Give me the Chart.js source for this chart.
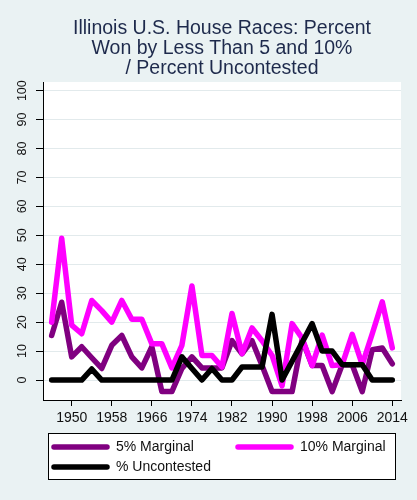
<!DOCTYPE html>
<html lang="en">
<head>
  <meta charset="UTF-8" />
  <title>Illinois U.S. House Races</title>
  <script src="https://cdn.jsdelivr.net/npm/chart.js"></script>
  <style>
    body {
      margin: 0;
      background: #eaf2f3;
    }
    .wrap {
      width: 417px;
      height: 500px;
      position: relative;
    }
  </style>
</head>
<body>
  <div class="wrap"><canvas id="houseChart"></canvas></div>

  <script>
    const years = [1946, 1948, 1950, 1952, 1954, 1956, 1958, 1960, 1962, 1964, 1966, 1968, 1970, 1972, 1974, 1976, 1978,
                   1980, 1982, 1984, 1986, 1988, 1990, 1992, 1994, 1996, 1998, 2000, 2002, 2004, 2006, 2008, 2010, 2012, 2014]
    const marginal5 = [15.4, 26.9, 8, 11.5, 7.7, 4, 12, 15.4, 8, 4.2, 11.5, -4, -4, 4, 8, 4.2, 4.2,
                       4.2, 13.6, 9.1, 13.6, 5, -4, -4, -4, 14, 5, 5, -4, 5.3, 5.3, -4, 10.5, 11.1, 5.6]
    const marginal10 = [20, 49, 19, 16, 27.5, 24, 20, 27.5, 21, 21, 12.5, 12.5, 4.2, 12, 32.5, 8.5, 8.5,
                        4.5, 23, 9.1, 18, 13.6, 8.5, -2, 19.5, 14.5, 5, 15.5, 5, 5.3, 15.8, 5.3, 16, 27, 11.1]
    const uncontested = [0, 0, 0, 0, 3.8, 0, 0, 0, 0, 0, 0, 0, 0, 8, 4, 0, 4,
                         0, 0, 4.5, 4.5, 4.5, 22.7, 0, 6.5, 13, 19.5, 10, 10, 5.3, 5.3, 5.3, 0, 0, 0]
    const xTicks = [1950, 1958, 1966, 1974, 1982, 1990, 1998, 2006, 2014]
    const yTicks = [0, 10, 20, 30, 40, 50, 60, 70, 80, 90, 100]
    const titleLines = ['Illinois U.S. House Races: Percent', 'Won by Less Than 5 and 10%', '/ Percent Uncontested']
    const seriesNames = ['5% Marginal', '10% Marginal', '% Uncontested']
    const seriesColors = ['#800080', '#ff00ff', '#000000']

    const FONT = "'Liberation Sans', Arial, sans-serif"
    const toPoints = vals => years.map((yr, i) => ({ x: yr, y: vals[i] }))

    // stata-like backdrop, title and legend box
    const stataFrame = {
      id: 'stataFrame',
      beforeDraw(chart) {
        const { ctx, chartArea: a } = chart
        ctx.save()
        ctx.fillStyle = '#eaf2f3'
        ctx.fillRect(0, 0, chart.width, chart.height)
        ctx.fillStyle = '#ffffff'
        ctx.fillRect(a.left, a.top, a.right - a.left, a.bottom - a.top)
        ctx.restore()
      },
      afterDraw(chart) {
        const { ctx } = chart
        ctx.save()
        ctx.fillStyle = '#1e2a4c'
        ctx.font = `19.5px ${FONT}`
        ctx.textAlign = 'center'
        ctx.textBaseline = 'alphabetic'
        titleLines.forEach((t, i) => ctx.fillText(t, 222, 34 + i * 20.2))

        // legend
        ctx.fillStyle = '#ffffff'
        ctx.fillRect(48, 433, 347, 46)
        ctx.strokeStyle = '#000'
        ctx.lineWidth = 1
        ctx.strokeRect(48.5, 433.5, 347, 46)
        const slots = [[52, 447], [236, 447], [52, 467]]
        ctx.font = `14px ${FONT}`
        ctx.textAlign = 'left'
        ctx.textBaseline = 'middle'
        ctx.lineCap = 'round'
        slots.forEach(([lx, ly], i) => {
          ctx.strokeStyle = seriesColors[i]
          ctx.lineWidth = 5.5
          ctx.beginPath()
          ctx.moveTo(lx + 2, ly)
          ctx.lineTo(lx + 55, ly)
          ctx.stroke()
          ctx.fillStyle = '#111'
          ctx.fillText(seriesNames[i], lx + 64, ly)
        })
        ctx.restore()
      }
    }

    const lineStyle = (i, vals, order) => ({
      label: seriesNames[i],
      data: toPoints(vals),
      borderColor: seriesColors[i],
      backgroundColor: seriesColors[i],
      borderWidth: 5.5,
      borderJoinStyle: 'round',
      borderCapStyle: 'round',
      pointRadius: 0,
      tension: 0,
      fill: false,
      order: order
    })

    new Chart(document.getElementById('houseChart'), {
      type: 'line',
      data: {
        datasets: [
          lineStyle(0, marginal5, 3),
          lineStyle(1, marginal10, 2),
          lineStyle(2, uncontested, 1)
        ]
      },
      options: {
        responsive: true,
        maintainAspectRatio: false,
        animation: false,
        layout: { padding: { top: 82, right: 16, bottom: 0, left: 0 } },
        plugins: {
          legend: { display: false },
          title: { display: false },
          tooltip: { enabled: false }
        },
        scales: {
          x: {
            type: 'linear',
            min: 1944.27,
            max: 2015.74,
            afterBuildTicks: s => { s.ticks = xTicks.map(v => ({ value: v })) },
            afterFit: s => { s.height = 100 },
            grid: { drawOnChartArea: false, drawTicks: true, tickLength: 6, tickColor: '#000' },
            border: { color: '#000', width: 1 },
            ticks: { color: '#111', font: { family: FONT, size: 14 }, padding: 4, maxRotation: 0, callback: v => String(v) }
          },
          y: {
            type: 'linear',
            min: -6.9,
            max: 103,
            afterBuildTicks: s => { s.ticks = yTicks.map(v => ({ value: v })) },
            afterFit: s => { s.width = 43 },
            grid: { color: '#e2eaec', lineWidth: 1, drawTicks: true, tickLength: 7, tickColor: '#000' },
            border: { color: '#000', width: 1 },
            ticks: {
              color: '#111', font: { family: FONT, size: 12.5 },
              minRotation: 90, maxRotation: 90, crossAlign: 'center', padding: 3,
              callback: v => String(v)
            }
          }
        }
      },
      plugins: [stataFrame]
    })
  </script>
</body>
</html>
